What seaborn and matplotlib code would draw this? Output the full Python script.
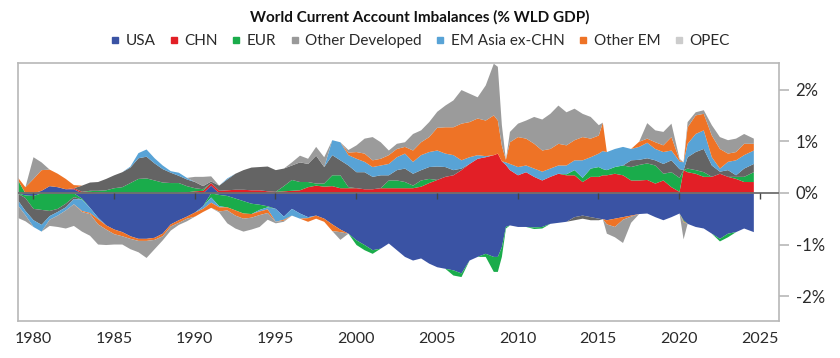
import numpy as np
import matplotlib
matplotlib.use("Agg")
import matplotlib.pyplot as plt
import seaborn as sns
from matplotlib.lines import Line2D

# Current account balances, % of world GDP
years = [1979.0, 1979.5, 1980.0, 1980.5, 1981.0, 1981.5, 1982.0, 1982.5, 1983.0, 1983.5,
         1984.0, 1984.5, 1985.0, 1985.5, 1986.0, 1986.5, 1987.0, 1987.5, 1988.0, 1988.5,
         1989.0, 1989.5, 1990.0, 1990.5, 1991.0, 1991.5, 1992.0, 1992.5, 1993.0, 1993.5,
         1994.0, 1994.5, 1995.0, 1995.5, 1996.0, 1996.5, 1997.0, 1997.5, 1998.0, 1998.5,
         1999.0, 1999.5, 2000.0, 2000.5, 2001.0, 2001.5, 2002.0, 2002.5, 2003.0, 2003.5,
         2004.0, 2004.5, 2005.0, 2005.5, 2006.0, 2006.5, 2007.0, 2007.5, 2008.0, 2008.5,
         2008.75, 2009.0, 2009.25, 2009.5, 2010.0, 2010.5, 2011.0, 2011.5, 2012.0, 2012.5,
         2013.0, 2013.5, 2014.0, 2014.5, 2015.0, 2015.25, 2015.5, 2016.0, 2016.5, 2017.0,
         2017.5, 2018.0, 2018.5, 2019.0, 2019.5, 2020.0, 2020.25, 2020.5, 2021.0, 2021.5,
         2022.0, 2022.5, 2023.0, 2023.5, 2024.0, 2024.6]

usa = [0.03, -0.04, -0.05, 0.05, 0.14, 0.12, 0.08, 0.08, -0.10, -0.28,
       -0.47, -0.62, -0.70, -0.75, -0.83, -0.88, -0.88, -0.86, -0.78, -0.60,
       -0.52, -0.45, -0.37, -0.25, 0.15, -0.03, -0.05, -0.10, -0.15, -0.20,
       -0.22, -0.25, -0.30, -0.45, -0.30, -0.39, -0.46, -0.43, -0.49, -0.60,
       -0.70, -0.78, -0.91, -1.00, -1.10, -1.07, -0.97, -1.10, -1.23, -1.30,
       -1.26, -1.36, -1.43, -1.46, -1.49, -1.55, -1.30, -1.23, -1.17, -1.23,
       -1.23, -1.04, -0.65, -0.62, -0.65, -0.65, -0.66, -0.65, -0.59, -0.57,
       -0.55, -0.46, -0.43, -0.46, -0.49, -0.50, -0.52, -0.49, -0.46, -0.43,
       -0.40, -0.39, -0.46, -0.52, -0.46, -0.39, -0.52, -0.59, -0.65, -0.68,
       -0.78, -0.88, -0.78, -0.75, -0.68, -0.75]

chn = [0.00, 0.00, 0.00, 0.00, 0.00, 0.00, 0.00, 0.02, 0.03, 0.03,
       0.02, 0.01, 0.00, 0.00, 0.00, 0.00, 0.00, 0.00, 0.00, 0.00,
       0.01, 0.02, 0.04, 0.05, 0.05, 0.05, 0.06, 0.07, 0.07, 0.06,
       0.06, 0.04, 0.03, 0.04, 0.05, 0.06, 0.12, 0.15, 0.13, 0.14,
       0.10, 0.10, 0.10, 0.08, 0.08, 0.10, 0.10, 0.10, 0.10, 0.10,
       0.13, 0.20, 0.26, 0.32, 0.35, 0.45, 0.57, 0.67, 0.70, 0.74,
       0.77, 0.62, 0.55, 0.45, 0.35, 0.41, 0.32, 0.25, 0.32, 0.38,
       0.35, 0.35, 0.22, 0.32, 0.32, 0.35, 0.35, 0.38, 0.35, 0.25,
       0.25, 0.26, 0.19, 0.25, 0.12, 0.03, 0.45, 0.41, 0.38, 0.32,
       0.32, 0.38, 0.32, 0.28, 0.22, 0.22]

eur = [0.25, -0.05, -0.25, -0.32, -0.34, -0.30, -0.20, -0.07, -0.02, 0.02,
       0.03, 0.05, 0.10, 0.12, 0.20, 0.28, 0.29, 0.25, 0.21, 0.20,
       0.19, 0.12, 0.06, 0.03, -0.08, -0.22, -0.22, -0.23, -0.24, -0.20,
       -0.10, -0.02, 0.00, 0.10, 0.21, 0.16, 0.10, 0.04, 0.06, 0.21,
       0.25, 0.02, -0.09, -0.10, -0.07, 0.00, 0.15, 0.15, 0.12, 0.05,
       0.12, 0.08, 0.00, 0.00, -0.10, -0.07, 0.00, 0.00, -0.06, -0.29,
       -0.29, -0.19, -0.03, 0.00, 0.00, 0.00, -0.03, -0.03, 0.00, 0.00,
       0.02, 0.10, 0.08, 0.16, 0.19, 0.12, 0.10, 0.13, 0.19, 0.26,
       0.30, 0.32, 0.35, 0.13, 0.29, 0.27, -0.02, 0.07, 0.07, 0.09,
       0.00, -0.05, -0.07, 0.04, 0.10, 0.19]

oth_dev = [-0.12, -0.25, -0.22, -0.29, -0.10, -0.06, -0.07, -0.04, 0.12, 0.16,
           0.17, 0.22, 0.25, 0.29, 0.30, 0.40, 0.42, 0.33, 0.26, 0.20,
           0.14, 0.13, 0.12, 0.06, 0.03, 0.10, 0.21, 0.31, 0.38, 0.44,
           0.45, 0.48, 0.42, 0.34, 0.28, 0.38, 0.35, 0.54, 0.32, 0.39,
           0.29, 0.42, 0.31, 0.33, 0.24, 0.25, 0.10, 0.20, 0.26, 0.23,
           0.20, 0.23, 0.26, 0.19, 0.10, 0.03, 0.00, 0.00, 0.00, 0.00,
           0.00, 0.00, 0.00, 0.00, 0.00, 0.00, 0.00, 0.00, 0.00, 0.00,
           0.00, -0.06, -0.06, -0.06, -0.03, 0.00, 0.00, 0.00, 0.00, 0.13,
           0.10, 0.10, 0.10, 0.19, 0.23, 0.17, 0.00, 0.22, 0.35, 0.45,
           0.22, 0.04, 0.13, 0.03, 0.16, 0.16]

em_asia = [-0.10, -0.08, -0.13, -0.13, -0.07, -0.07, -0.06, -0.10, -0.22, -0.10,
           -0.03, 0.00, 0.00, 0.00, 0.02, 0.10, 0.14, 0.10, 0.07, 0.03,
           0.06, 0.03, 0.00, -0.05, -0.10, -0.02, 0.02, 0.00, 0.00, 0.00,
           -0.03, -0.04, -0.25, -0.06, -0.13, -0.10, -0.02, 0.00, 0.00, 0.29,
           0.35, 0.20, 0.26, 0.20, 0.19, 0.19, 0.22, 0.25, 0.29, 0.23,
           0.29, 0.29, 0.31, 0.26, 0.29, 0.16, 0.13, 0.07, 0.02, 0.00,
           0.00, 0.00, 0.05, 0.12, 0.16, 0.13, 0.16, 0.17, 0.16, 0.16,
           0.17, 0.19, 0.34, 0.22, 0.26, 0.35, 0.35, 0.35, 0.36, 0.22,
           0.25, 0.30, 0.22, 0.23, 0.19, 0.15, 0.15, 0.26, 0.35, 0.36,
           0.16, 0.06, 0.16, 0.29, 0.26, 0.26]

oth_em = [0.04, 0.12, 0.28, 0.40, 0.32, 0.26, 0.20, 0.06, -0.02, -0.02,
          -0.10, -0.08, -0.09, -0.08, -0.05, -0.04, -0.04, -0.04, -0.05, -0.04,
          -0.05, -0.04, -0.08, -0.06, -0.10, -0.08, -0.06, -0.10, -0.10, -0.07,
          -0.07, -0.07, 0.00, -0.02, 0.00, 0.00, -0.07, -0.06, -0.06, -0.13,
          -0.05, 0.05, 0.13, 0.16, 0.13, 0.13, 0.17, 0.16, 0.13, 0.22,
          0.25, 0.29, 0.44, 0.51, 0.54, 0.71, 0.68, 0.71, 0.69, 0.77,
          0.64, 0.30, 0.05, 0.42, 0.58, 0.52, 0.48, 0.41, 0.38, 0.42,
          0.39, 0.39, 0.45, 0.36, 0.35, 0.55, -0.08, -0.16, -0.05, -0.02,
          0.10, 0.08, 0.13, 0.13, 0.26, 0.03, -0.02, 0.32, 0.36, 0.32,
          0.42, 0.38, 0.16, 0.16, 0.22, 0.13]

opec = [-0.25, -0.12, 0.42, 0.15, -0.12, -0.22, -0.35, -0.42, -0.38, -0.42,
        -0.39, -0.30, -0.20, -0.16, -0.20, -0.22, -0.33, -0.18, -0.08, -0.08,
        -0.04, -0.05, 0.10, 0.18, 0.10, -0.02, -0.25, -0.25, -0.25, -0.23,
        -0.23, -0.13, -0.03, -0.02, 0.06, 0.13, 0.10, 0.17, 0.19, 0.00,
        -0.15, 0.05, 0.13, 0.29, 0.45, 0.32, 0.09, 0.10, 0.09, 0.32,
        0.23, 0.29, 0.31, 0.42, 0.52, 0.65, 0.55, 0.41, 0.68, 1.00,
        1.04, 0.40, 0.00, 0.20, 0.26, 0.35, 0.52, 0.60, 0.68, 0.74,
        0.64, 0.61, 0.45, 0.42, 0.20, 0.00, -0.18, -0.20, -0.45, -0.12,
        0.00, 0.30, 0.23, 0.26, 0.26, 0.02, -0.33, 0.10, 0.06, 0.07,
        0.20, 0.23, 0.26, 0.26, 0.19, 0.10]

names = ["USA", "CHN", "EUR", "Other Developed", "EM Asia ex-CHN", "Other EM", "OPEC"]
colors = ["#3a53a4", "#e21f26", "#1aac4b", "#646464", "#58a3d6", "#ee7326", "#9b9b9b"]
legend_colors = ["#3a53a4", "#e21f26", "#1aac4b", "#999999", "#58a3d6", "#ee7326", "#cccccc"]

sns.set_theme(style="white")
plt.rcParams["font.family"] = ["Lato", "DejaVu Sans"]

fig = plt.figure(figsize=(8.4, 3.58), dpi=100)
ax = fig.add_axes([0.0214, 0.1034, 0.906, 0.7207])

vals = np.array([usa, chn, eur, oth_dev, em_asia, oth_em, opec])
x = np.array(years)

# stack surpluses upwards and deficits downwards, in the same order
for part in (np.clip(vals, 0, None), np.clip(vals, None, 0)):
    base = np.zeros(len(x))
    for row, col in zip(part, colors):
        ax.fill_between(x, base, base + row, color=col, lw=0)
        base = base + row

ylo, yhi = -2.48, 2.515
ax.set_xlim(1979.07, 2026.19)
ax.set_ylim(ylo, yhi)
ax.axhline(0, color="#6e6e6e", lw=1.3, zorder=3)

for sp in ax.spines.values():
    sp.set_visible(True)
    sp.set_color("#b8b8b8")
    sp.set_linewidth(1.2)

ax.yaxis.tick_right()
ax.set_yticks([-2, -1, 0, 1, 2])
ax.set_yticklabels(["-2%", "-1%", "0%", "1%", "2%"])
ax.tick_params(axis="y", right=True, left=False, length=7, width=1.2, color="#b8b8b8",
               labelsize=12, pad=5, labelcolor="#2a2a2a")
ax.set_xticks(range(1980, 2026, 5))
ax.tick_params(axis="x", bottom=True, length=0, labelsize=11.5, pad=8, labelcolor="#2a2a2a")

# little year ticks sitting on the zero line
sec = ax.secondary_xaxis((0 - ylo) / (yhi - ylo))
sec.set_zorder(4)
sec.set_xticks(range(1980, 2026, 5))
sec.xaxis.set_ticks_position("bottom")
sec.tick_params(length=4, width=1, color="#444444", labelbottom=False, labeltop=False)
sec.spines["bottom"].set_visible(False)
sec.spines["top"].set_visible(False)

handles = [Line2D([], [], marker="s", ls="", color=c, markersize=4.5) for c in legend_colors]
fig.legend(handles, names, loc="center", bbox_to_anchor=(0.5, 1 - 41 / 358), ncol=7,
           frameon=False, handlelength=0.6, handletextpad=0.4, columnspacing=0.9,
           fontsize=11, labelcolor="#2a2a2a")
fig.text(0.5, 1 - 17 / 358, "World Current Account Imbalances (% WLD GDP)", ha="center",
         va="center", fontsize=11, fontweight="bold", color="#111111")

fig.savefig("out.png", dpi=100)
